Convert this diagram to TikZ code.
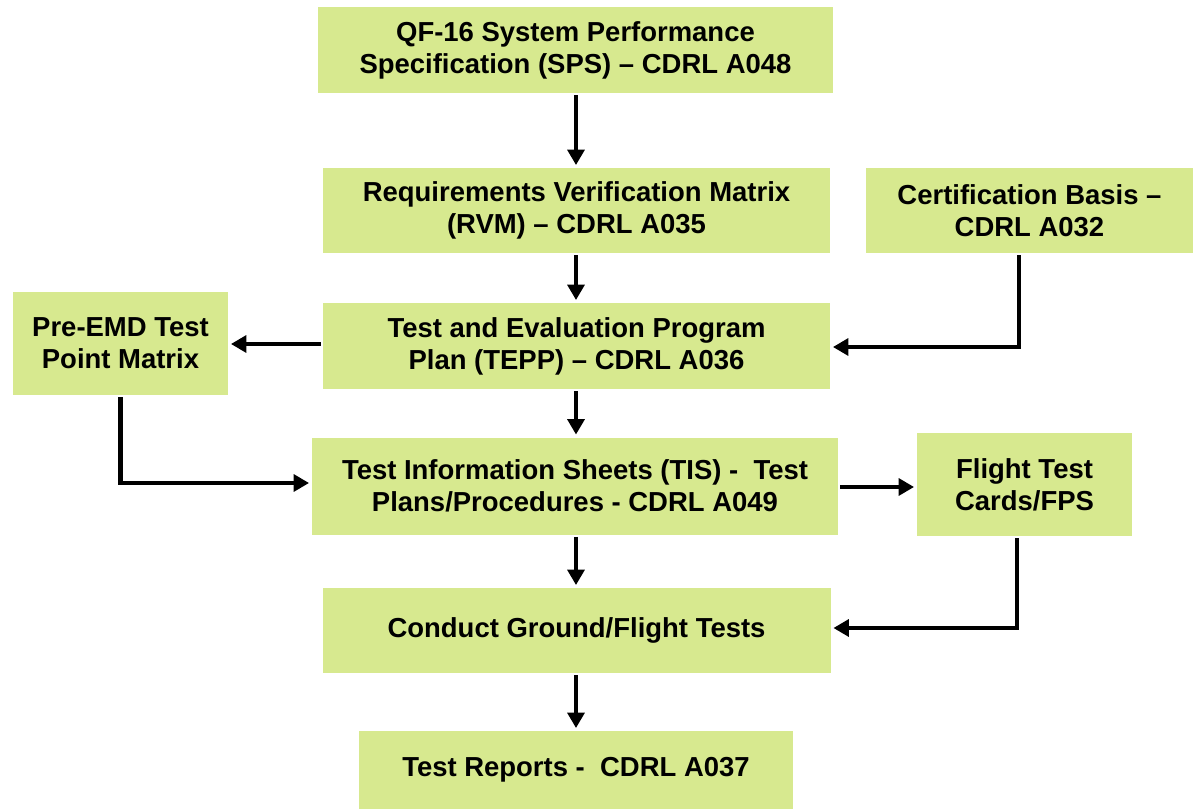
\documentclass[tikz,border=0pt]{standalone}
\usepackage{fontspec}
\setmainfont{Liberation Sans}
\usetikzlibrary{arrows.meta}
\definecolor{boxgreen}{RGB}{215,233,143}
\begin{document}
\begin{tikzpicture}[x=0.75pt,y=-0.75pt,
  box/.style={fill=boxgreen,draw=none,align=center,inner sep=0pt,
    font=\fontsize{20.6}{24}\selectfont\bfseries},
  arr/.style={line width=3.4pt,-{Triangle[length=11.5pt,width=12.5pt]},shorten >=2pt,shorten <=1.5pt}]
\useasboundingbox (0,0) rectangle (1195,809);
\node[box,minimum width=515*0.75pt,minimum height=86*0.75pt] (sps) at (575.5,50) {QF-16 System Performance\\Specification (SPS) -- CDRL A048};
\node[box,minimum width=507*0.75pt,minimum height=85*0.75pt] (rvm) at (576.5,210.5) {Requirements Verification Matrix\\(RVM) -- CDRL A035};
\node[box,minimum width=327*0.75pt,minimum height=85*0.75pt] (cert) at (1029.5,210.5) {Certification Basis --\\CDRL A032};
\node[box,minimum width=215*0.75pt,minimum height=103*0.75pt] (pre) at (120.5,343.5) {Pre-EMD Test\\Point Matrix};
\node[box,minimum width=507*0.75pt,minimum height=86*0.75pt] (tepp) at (576.5,346) {Test and Evaluation Program\\Plan (TEPP) -- CDRL A036};
\node[box,minimum width=526*0.75pt,minimum height=97*0.75pt] (tis) at (575,486) {Test Information Sheets (TIS) -\ \ Test\\Plans/Procedures - CDRL A049};
\node[box,minimum width=215*0.75pt,minimum height=103*0.75pt] (ftc) at (1024.5,484.5) {Flight Test\\Cards/FPS};
\node[box,minimum width=508*0.75pt,minimum height=85*0.75pt] (cond) at (576.5,630.5) {Conduct Ground/Flight Tests};
\node[box,minimum width=434*0.75pt,minimum height=78*0.75pt] (rep) at (576,770) {Test Reports -\ \ CDRL A037};
\draw[arr] (sps.south -| 576,0) -- (rvm.north -| 576,0);
\draw[arr] (rvm.south -| 576,0) -- (tepp.north -| 576,0);
\draw[arr] (tepp.south -| 576,0) -- (tis.north -| 576,0);
\draw[arr] (tis.south -| 576,0) -- (cond.north -| 576,0);
\draw[arr] (cond.south -| 576,0) -- (rep.north -| 576,0);
\draw[arr] (cert.south -| 1019,0) |- (tepp.east |- 0,347);
\draw[arr] (tepp.west |- 0,344) -- (pre.east |- 0,344);
\draw[arr] (pre.south) |- (tis.west |- 0,483);
\draw[arr] (tis.east |- 0,487) -- (ftc.west |- 0,487);
\draw[arr] (ftc.south -| 1017,0) |- (cond.east |- 0,628);
\end{tikzpicture}
\end{document}
